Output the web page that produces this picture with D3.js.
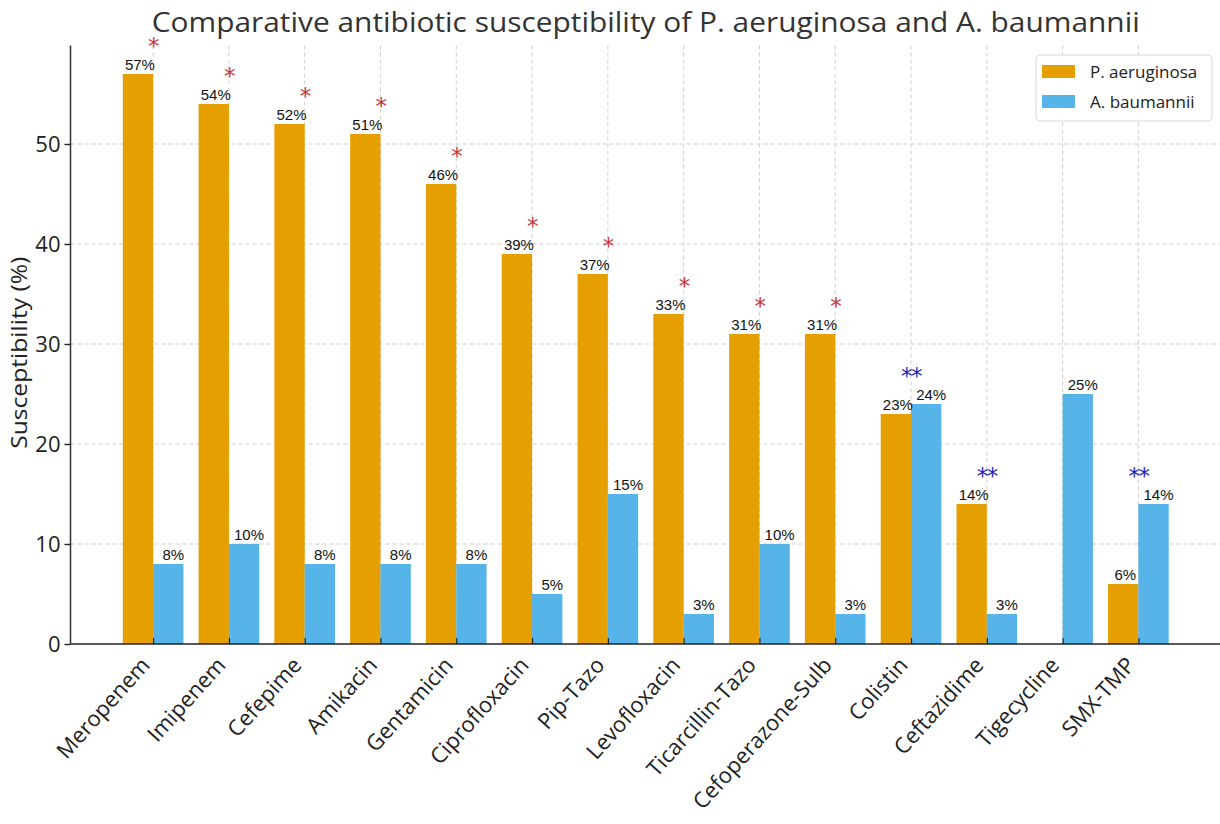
<!DOCTYPE html>
<html>
<head>
<meta charset="utf-8">
<script src="https://cdn.jsdelivr.net/npm/d3@7"></script>
<style>
  html, body { margin: 0; padding: 0; background: #fff; }
  svg { display: block; }
</style>
</head>
<body>
<svg id="chart" width="1220" height="824"></svg>
<script>
// ---- data ----
const categories = ["Meropenem", "Imipenem", "Cefepime", "Amikacin", "Gentamicin", "Ciprofloxacin",
  "Pip-Tazo", "Levofloxacin", "Ticarcillin-Tazo", "Cefoperazone-Sulb", "Colistin", "Ceftazidime",
  "Tigecycline", "SMX-TMP"];
const paValues = [57, 54, 52, 51, 46, 39, 37, 33, 31, 31, 23, 14, null, 6];
const abValues = [8, 10, 8, 8, 8, 5, 15, 3, 10, 3, 24, 3, 25, 14];
const significance = ["*", "*", "*", "*", "*", "*", "*", "*", "*", "*", "**", "**", "", "**"];
const yTicks = [0, 10, 20, 30, 40, 50];
const seriesNames = ["P. aeruginosa", "A. baumannii"];
const seriesColors = ["#E69F00", "#56B4E9"];
const titleText = "Comparative antibiotic susceptibility of P. aeruginosa and A. baumannii";
const yLabelText = "Susceptibility (%)";

(function () {
const FONT = "'Open Sans', 'DejaVu Sans', sans-serif";
const svg = d3.select("#chart");
const pLeft = 70.5, pRight = 1221, pTop = 45.5, pBottom = 644;
const barW = 0.4;
const n = categories.length;
const x = d3.scaleLinear().domain([-1.09, n - 1 + 1.09]).range([pLeft, pRight]);
const yMax = d3.max([...paValues, ...abValues]) * 1.05;
const y = d3.scaleLinear().domain([0, yMax]).range([pBottom, pTop]);
const unit = x(1) - x(0);

// grid
const grid = svg.append("g");
grid.selectAll("line.v").data(categories).join("line").attr("class", "v")
  .attr("x1", (d, i) => x(i)).attr("x2", (d, i) => x(i))
  .attr("y1", pTop).attr("y2", pBottom)
  .attr("stroke", "#cfcfcf").attr("stroke-width", 1).attr("stroke-dasharray", "4,3");
grid.selectAll("line.h").data(yTicks.filter(t => t > 0)).join("line").attr("class", "h")
  .attr("x1", pLeft).attr("x2", pRight)
  .attr("y1", d => y(d)).attr("y2", d => y(d))
  .attr("stroke", "#cfcfcf").attr("stroke-width", 1).attr("stroke-dasharray", "4,3");

// bars
const series = [paValues, abValues];
series.forEach((vals, s) => {
  svg.append("g").selectAll("rect").data(vals.map((v, i) => ({ v, i })).filter(d => d.v != null)).join("rect")
    .attr("x", d => x(d.i - barW + s * barW))
    .attr("width", barW * unit)
    .attr("y", d => y(d.v))
    .attr("height", d => pBottom - y(d.v))
    .attr("fill", seriesColors[s]);
});

// value labels
const labelOffset = [2, 5];
series.forEach((vals, s) => {
  svg.append("g").selectAll("text").data(vals.map((v, i) => ({ v, i })).filter(d => d.v != null)).join("text")
    .attr("x", d => x(d.i - barW / 2 + s * barW) + labelOffset[s])
    .attr("y", d => y(d.v + 0.45))
    .attr("text-anchor", "middle")
    .attr("font-family", "'Liberation Sans', Arial, sans-serif")
    .attr("font-size", 15)
    .attr("fill", "#111")
    .text(d => d.v + "%");
});

// significance markers
svg.append("g").selectAll("text").data(significance.map((m, i) => ({ m, i })).filter(d => d.m)).join("text")
  .attr("x", d => x(d.i))
  .attr("y", d => y(Math.max(paValues[d.i] || 0, abValues[d.i]) + 3.3) + 13)
  .attr("text-anchor", "middle")
  .attr("font-family", "'DejaVu Sans', sans-serif")
  .attr("font-size", 23)
  .attr("fill", d => d.m === "**" ? "#2424b8" : "#d0333a")
  .attr("letter-spacing", -1.5)
  .text(d => d.m);

// axes
const yAxis = d3.axisLeft(y).tickValues(yTicks).tickSize(6).tickPadding(4);
const yG = svg.append("g").attr("transform", `translate(${pLeft},0)`).call(yAxis);
yG.select(".domain").attr("stroke", "#333").attr("stroke-width", 1.5).attr("d", `M0,${pTop}V${pBottom}`);
yG.selectAll(".tick line").attr("stroke", "#222").attr("stroke-width", 1.4);
yG.selectAll(".tick text").attr("font-family", FONT).attr("font-size", 22).attr("fill", "#222");

const xAxis = d3.axisBottom(x).tickValues(d3.range(n)).tickSize(-6).tickFormat("");
const xG = svg.append("g").attr("transform", `translate(0,${pBottom})`).call(xAxis);
xG.select(".domain").attr("stroke", "#222").attr("stroke-width", 1.6).attr("d", `M${pLeft},0H${pRight}`);
xG.selectAll(".tick line").attr("stroke", "#222").attr("stroke-width", 1.2);

svg.append("g").selectAll("text").data(categories).join("text")
  .attr("transform", (d, i) => `translate(${x(i) - 2},${pBottom + 22}) rotate(-48)`)
  .attr("text-anchor", "end")
  .attr("font-family", FONT)
  .attr("font-size", 22)
  .attr("fill", "#222")
  .text(d => d);

// y label
svg.append("text")
  .attr("transform", `translate(27,${(pTop + pBottom) / 2 + 8}) rotate(-90)`)
  .attr("text-anchor", "middle")
  .attr("font-family", FONT)
  .attr("font-size", 21)
  .attr("fill", "#222")
  .attr("textLength", 192).attr("lengthAdjust", "spacingAndGlyphs")
  .text(yLabelText);

// title
svg.append("text")
  .attr("x", (pLeft + pRight) / 2)
  .attr("y", 32)
  .attr("text-anchor", "middle")
  .attr("font-family", FONT)
  .attr("font-size", 28)
  .attr("fill", "#333")
  .attr("textLength", 988).attr("lengthAdjust", "spacingAndGlyphs")
  .text(titleText);

// legend
const lg = svg.append("g").attr("transform", "translate(1036,55)");
lg.append("rect").attr("width", 176).attr("height", 66).attr("rx", 4)
  .attr("fill", "#fff").attr("fill-opacity", 0.85).attr("stroke", "#d6d6d6");
seriesNames.forEach((name, s) => {
  lg.append("rect").attr("x", 6).attr("y", 10 + s * 30).attr("width", 33).attr("height", 13)
    .attr("fill", seriesColors[s]);
  lg.append("text").attr("x", 54).attr("y", 23 + s * 30)
    .attr("font-family", FONT).attr("font-size", 17).attr("fill", "#222")
    .text(name);
});
})();
</script>
</body>
</html>
